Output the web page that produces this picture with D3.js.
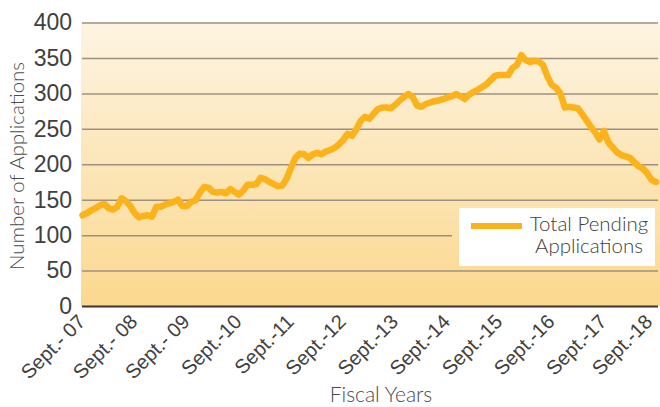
<!DOCTYPE html>
<html>
<head>
<meta charset="utf-8">
<script src="https://cdn.jsdelivr.net/npm/d3@7"></script>
<style>
	body { margin: 0; background: #fff; }
	svg { display: block; font-family: 'Lato', 'Open Sans', sans-serif; font-weight: 300; }
</style>
</head>
<body>
<div class="chart"></div>
<script>
// monthly pending applications, Sept. 2007 .. Sept. 2018
const pending = [
	128, 131, 135, 138, 142, 144, 138, 136, 140, 152, 148, 141,
	131, 125, 127, 128, 126, 140, 140, 143, 145, 147, 150, 141,
	141, 147, 149, 160, 168, 167, 161, 160, 161, 159, 165, 161,
	157, 163, 171, 171, 172, 181, 179, 175, 172, 169, 170, 180,
	195, 209, 215, 214, 209, 214, 216, 214, 218, 220, 223, 228,
	234, 243, 240, 249, 261, 267, 264, 271, 278, 280, 280, 279,
	284, 290, 295, 299, 295, 283, 281, 285, 287, 289, 290, 292,
	294, 296, 299, 296, 292, 298, 302, 305, 309, 313, 319, 325,
	326, 326, 326, 336, 340, 354, 347, 344, 346, 345, 340, 324,
	312, 308, 300, 280, 281, 280, 279, 271, 262, 253, 245, 235,
	247, 231, 224, 217, 213, 211, 209, 203, 197, 194, 187, 178,
	175
]

const tickLabels = ['Sept.- 07', 'Sept.- 08', 'Sept.- 09', 'Sept.-10', 'Sept.-11', 'Sept.-12',
	'Sept.-13', 'Sept.-14', 'Sept.-15', 'Sept.-16', 'Sept.-17', 'Sept.-18']
const yTicks = [0, 50, 100, 150, 200, 250, 300, 350, 400]
const legendLines = ['Total Pending', 'Applications']

const width = 660
const height = 407
const plotLeft = 82
const plotRight = 658
const plotTop = 22.5
const plotBottom = 306

const scaleX = d3.scaleLinear().domain([0, pending.length - 1]).range([plotLeft + 0.5, 656])
const scaleY = d3.scaleLinear().domain([0, 400]).range([plotBottom, plotTop])

const svg = d3.select('.chart').append('svg')
	.attr('width', width)
	.attr('height', height)

const grad = svg.append('defs').append('linearGradient')
	.attr('id', 'bg')
	.attr('gradientUnits', 'userSpaceOnUse')
	.attr('x1', 0).attr('y1', plotTop)
	.attr('x2', 0).attr('y2', plotBottom)
grad.append('stop').attr('offset', 0).attr('stop-color', '#fdf4e2')
grad.append('stop').attr('offset', 1).attr('stop-color', '#fbd88e')

svg.append('rect')
	.attr('x', plotLeft - 1)
	.attr('y', plotTop)
	.attr('width', width - plotLeft + 1)
	.attr('height', plotBottom - plotTop)
	.attr('fill', 'url(#bg)')

// grid
const yAxis = d3.axisLeft(scaleY)
	.tickValues(yTicks)
	.tickSize(-(plotRight - plotLeft))
	.tickPadding(10)

const gy = svg.append('g')
	.attr('transform', `translate(${plotLeft}, 0)`)
	.call(yAxis)

gy.select('.domain').remove()
gy.selectAll('.tick line')
	.attr('stroke', d => d === 0 ? '#3d352c' : '#9c9080')
	.attr('stroke-width', d => d === 0 ? 2 : 1.5)
gy.selectAll('.tick text')
	.attr('fill', '#404040')
	.style('font-size', '23px')
	.style('font-family', 'inherit')

// x axis labels
const xAxis = d3.axisBottom(scaleX)
	.tickValues(d3.range(0, pending.length, 12))
	.tickFormat((d, i) => tickLabels[i])
	.tickSize(0)

const gx = svg.append('g')
	.attr('transform', `translate(0, ${plotBottom})`)
	.call(xAxis)

gx.select('.domain').remove()
const last = tickLabels.length - 1
gx.selectAll('.tick text')
	.attr('fill', '#404040')
	.style('font-size', '20px')
	.style('font-family', 'inherit')
	.attr('text-anchor', 'end')
	.attr('transform', 'rotate(-45)')
	.attr('y', 0)
	// the last one is nudged in so it stays inside the edge
	.attr('dx', (d, i) => i === last ? '-14px' : '-9.5px')
	.attr('dy', (d, i) => i === last ? '10px' : '14.5px')

// legend background hides the gridline behind it
svg.append('rect')
	.attr('x', 452)
	.attr('y', 205)
	.attr('width', plotRight - 452)
	.attr('height', 64)
	.attr('fill', 'url(#bg)')

const legend = svg.append('g')
legend.append('rect')
	.attr('x', 459)
	.attr('y', 208)
	.attr('width', 196)
	.attr('height', 58)
	.attr('fill', '#fff')
legend.append('line')
	.attr('x1', 471).attr('x2', 522)
	.attr('y1', 226).attr('y2', 226)
	.attr('stroke', '#fcb21a')
	.attr('stroke-width', 6)
legend.selectAll('text')
	.data(legendLines)
	.join('text')
	.attr('x', 589)
	.attr('y', (d, i) => 231 + i * 22)
	.attr('text-anchor', 'middle')
	.attr('fill', '#404040')
	.style('font-size', '20.5px')
	.text(d => d)

// line
const line = d3.line()
	.x((d, i) => scaleX(i))
	.y(d => scaleY(d))

svg.append('path')
	.datum(pending)
	.attr('d', line)
	.attr('fill', 'none')
	.attr('stroke', '#fcb21a')
	.attr('stroke-width', 6.5)
	.attr('stroke-linejoin', 'round')
	.attr('stroke-linecap', 'round')

// axis titles
svg.append('text')
	.attr('x', 381)
	.attr('y', 402)
	.attr('text-anchor', 'middle')
	.attr('fill', '#4a4a4a')
	.style('font-size', '21px')
	.text('Fiscal Years')

svg.append('text')
	.attr('transform', `translate(24, 166) rotate(-90)`)
	.attr('text-anchor', 'middle')
	.attr('fill', '#4a4a4a')
	.style('font-size', '20.5px')
	.text('Number of Applications')
</script>
</body>
</html>
